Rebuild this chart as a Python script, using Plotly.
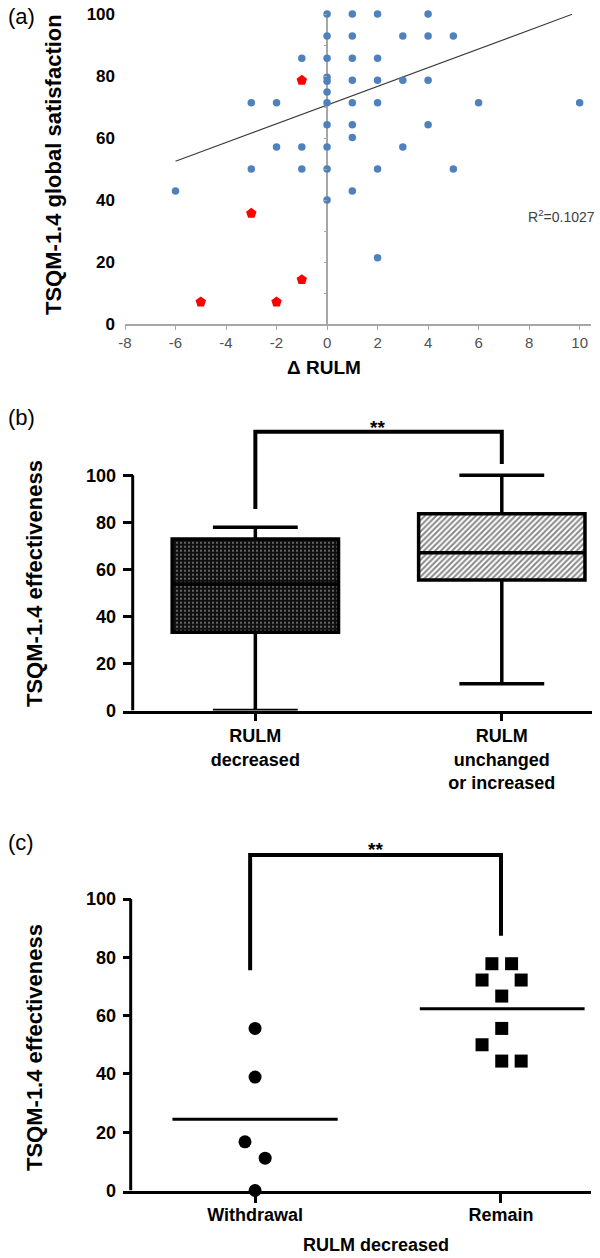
import numpy as np
import plotly.graph_objects as go

# ---------------- data ----------------
# (a) scatter: change in RULM vs TSQM-1.4 global satisfaction
blue_x = [-6, -3, -3, -2, -2, -1, -1, -1,
          0, 0, 0, 0, 0, 0, 0, 0, 0, 0, 0,
          1, 1, 1, 1, 1, 1, 1, 1,
          2, 2, 2, 2, 2, 2,
          3, 3, 3,
          4, 4, 4, 4,
          5, 5, 6, 10]
blue_y = [42.9, 71.4, 50.0, 71.4, 57.1, 85.7, 57.1, 50.0,
          100, 92.9, 85.7, 79.6, 78.3, 74.8, 71.4, 64.3, 57.1, 50.0, 40.0,
          100, 92.9, 85.7, 78.6, 71.4, 64.3, 60.2, 42.9,
          100, 85.7, 78.6, 71.4, 50.0, 21.4,
          92.9, 78.6, 57.1,
          100, 92.9, 78.6, 64.3,
          92.9, 50.0, 71.4, 71.4]
red_x = [-1, -3, -1, -5, -2]
red_y = [78.6, 35.7, 14.3, 7.1, 7.1]
trend_x = [-6, 9.7]
trend_y = [52.5, 99.9]
r2_text = "R<sup>2</sup>=0.1027"
a_xticks = [-8, -6, -4, -2, 0, 2, 4, 6, 8, 10]
a_yticks = [0, 20, 40, 60, 80, 100]

# (b) box plots
b_labels = ["RULM<br>decreased", "RULM<br>unchanged<br>or increased"]
b_q1 = [33.3, 55.5]
b_median = [53.8, 67.1]
b_q3 = [72.9, 83.7]
b_low = [0.0, 11.4]
b_high = [77.9, 100.0]
b_bracket_y = [85.7, 118.5, 118.5, 104.8]

# (c) dot plot
c_labels = ["Withdrawal", "Remain"]
withdrawal = [55.6, 38.9, 16.7, 11.1, 0.0]
withdrawal_jitter = [0.0, 0.0, -0.041, 0.041, 0.0]
remain = [77.8, 77.8, 72.2, 72.2, 66.7, 55.6, 50.0, 44.4, 44.4]
remain_jitter = [-0.037, 0.043, -0.077, 0.082, 0.003, 0.003, -0.077, 0.003, 0.082]
c_bracket_y = [75.6, 115.1, 115.1, 87.4]

yticks_bc = [0, 20, 40, 60, 80, 100]

FONT = "Liberation Sans, Arial, sans-serif"
H = 1258.0
W = 600.0


def py(px):
    return 1 - px / H


def pxx(px):
    return px / W


fig = go.Figure()

# ---------------- panel (a) ----------------
fig.add_trace(go.Scatter(
    x=trend_x, y=trend_y, mode="lines",
    line=dict(color="#3a3a3a", width=1.1),
    xaxis="x", yaxis="y"))
fig.add_trace(go.Scatter(
    x=blue_x, y=blue_y, mode="markers",
    marker=dict(color="#4F81BD", size=7.5, symbol="circle", line=dict(width=0)),
    cliponaxis=False, xaxis="x", yaxis="y"))
fig.add_trace(go.Scatter(
    x=red_x, y=red_y, mode="markers",
    marker=dict(color="#FF0000", size=11, symbol="pentagon", line=dict(width=0)),
    cliponaxis=False, xaxis="x", yaxis="y"))
# invisible trace so the tick-only axis drawn along x=0 exists
fig.add_trace(go.Scatter(x=[0], y=[0], mode="markers",
                         marker=dict(opacity=0), xaxis="x", yaxis="y4"))

# ---------------- panel (b) ----------------
b_x = [0, 1]
b_height = list(np.array(b_q3) - np.array(b_q1))
fig.add_trace(go.Bar(
    x=[b_x[0]], base=[b_q1[0]], y=[b_height[0]], width=0.675,
    marker=dict(color="#101010", line=dict(width=0),
                pattern=dict(shape=".", fgcolor="#dcdcdc", size=4,
                             solidity=0.22, fillmode="overlay")),
    xaxis="x2", yaxis="y2"))
fig.add_trace(go.Bar(
    x=[b_x[1]], base=[b_q1[1]], y=[b_height[1]], width=0.675,
    marker=dict(color="white", line=dict(width=0),
                pattern=dict(shape="/", fgcolor="#111111", size=4,
                             solidity=0.5, fillmode="overlay")),
    xaxis="x2", yaxis="y2"))
fig.add_trace(go.Box(
    x=b_x, q1=b_q1, median=b_median, q3=b_q3,
    lowerfence=b_low, upperfence=b_high,
    width=0.675, whiskerwidth=0.51,
    line=dict(color="black", width=3.5),
    fillcolor="rgba(0,0,0,0)", boxpoints=False,
    xaxis="x2", yaxis="y2"))
fig.add_trace(go.Scatter(
    x=[0, 0, 1, 1], y=b_bracket_y, mode="lines",
    line=dict(color="black", width=4), xaxis="x2", yaxis="y2"))

# ---------------- panel (c) ----------------
wx = [0 + j for j in withdrawal_jitter]
rx = [1 + j for j in remain_jitter]
fig.add_trace(go.Scatter(
    x=wx, y=withdrawal, mode="markers",
    marker=dict(color="black", size=13, symbol="circle", line=dict(width=0)),
    cliponaxis=False, xaxis="x3", yaxis="y3"))
fig.add_trace(go.Scatter(
    x=rx, y=remain, mode="markers",
    marker=dict(color="black", size=13, symbol="square", line=dict(width=0)),
    cliponaxis=False, xaxis="x3", yaxis="y3"))
mw = float(np.mean(withdrawal))
mr = float(np.mean(remain))
fig.add_trace(go.Scatter(
    x=[-0.336, 0.336], y=[mw, mw], mode="lines",
    line=dict(color="black", width=3), xaxis="x3", yaxis="y3"))
fig.add_trace(go.Scatter(
    x=[1 - 0.33, 1 + 0.34], y=[mr, mr], mode="lines",
    line=dict(color="black", width=3), xaxis="x3", yaxis="y3"))
fig.add_trace(go.Scatter(
    x=[-0.02, -0.02, 1, 1], y=c_bracket_y, mode="lines",
    line=dict(color="black", width=4), xaxis="x3", yaxis="y3"))

# ---------------- axes ----------------
grey = "#A6A6A6"
bc_xrange = [-0.537, 1.366]

layout = dict(
    template="none",
    width=600, height=1258,
    margin=dict(l=0, r=0, t=0, b=0, pad=0, autoexpand=False),
    paper_bgcolor="white", plot_bgcolor="white",
    showlegend=False, barmode="overlay", hovermode=False,
    font=dict(family=FONT, color="black"),
    # panel a
    xaxis=dict(domain=[pxx(125), pxx(591)], range=[-8, 10.45], anchor="y",
               tickvals=a_xticks, ticktext=[str(v) for v in a_xticks],
               ticks="outside", ticklen=4, tickcolor=grey,
               showline=True, linecolor=grey, linewidth=1.5,
               zeroline=True, zerolinecolor=grey, zerolinewidth=1.5,
               showgrid=False, automargin=False,
               tickfont=dict(family=FONT, size=15, color="#505050")),
    yaxis=dict(domain=[py(324), py(14)], range=[0, 100], anchor="x",
               tickvals=a_yticks, showline=False, showgrid=False,
               zeroline=False, ticks="", ticklabelstandoff=9, automargin=False,
               tickfont=dict(family=FONT, size=17, color="black", weight="bold")),
    yaxis4=dict(domain=[py(324), py(14)], range=[0, 100], overlaying="y",
                anchor="free", position=pxx(327.1), side="left",
                dtick=10, ticks="outside", ticklen=3, tickcolor=grey,
                showticklabels=False, showline=False, showgrid=False,
                zeroline=False, automargin=False),
    # panel b
    xaxis2=dict(domain=[pxx(123), pxx(592)], range=bc_xrange, anchor="y2",
                tickvals=[0, 1], ticktext=b_labels, ticks="outside",
                ticklen=7, tickwidth=3, tickcolor="black",
                showline=True, linecolor="black", linewidth=3,
                showgrid=False, zeroline=False, layer="below traces",
                automargin=False,
                tickfont=dict(family=FONT, size=18, weight="bold")),
    yaxis2=dict(domain=[py(710.5), py(710.5 - 130 * 2.352)], range=[0, 130],
                anchor="x2", tickvals=yticks_bc, ticks="inside", ticklen=10,
                tickwidth=3, tickcolor="black", showline=False,
                showgrid=False, zeroline=False, ticklabelstandoff=6,
                automargin=False,
                tickfont=dict(family=FONT, size=18, weight="bold")),
    # panel c
    xaxis3=dict(domain=[pxx(123), pxx(591)], range=bc_xrange, anchor="y3",
                tickvals=[0, 1], ticktext=c_labels, ticks="outside",
                ticklen=9, tickwidth=3, tickcolor="black",
                showline=True, linecolor="black", linewidth=3,
                showgrid=False, zeroline=False, layer="below traces",
                automargin=False, ticklabelstandoff=-3,
                tickfont=dict(family=FONT, size=18, weight="bold")),
    yaxis3=dict(domain=[py(1190.5), py(1190.5 - 125 * 2.915)], range=[0, 125],
                anchor="x3", tickvals=yticks_bc, ticks="inside", ticklen=8,
                tickwidth=3, tickcolor="black", showline=False,
                showgrid=False, zeroline=False, ticklabelstandoff=6,
                automargin=False,
                tickfont=dict(family=FONT, size=18, weight="bold")),
)
fig.update_layout(**layout)

# y-axis lines for panels b and c (offset from the x-axis start)
fig.add_shape(type="line", xref="x2", yref="y2",
              x0=bc_xrange[0] + 9.7 / 246.4, x1=bc_xrange[0] + 9.7 / 246.4,
              y0=0, y1=100, line=dict(color="black", width=3))
fig.add_shape(type="line", xref="x3", yref="y3",
              x0=bc_xrange[0] + 7.7 / 246.4, x1=bc_xrange[0] + 7.7 / 246.4,
              y0=0, y1=100, line=dict(color="black", width=3))

# ---------------- annotations ----------------
ann = []


def A(**kw):
    d = dict(showarrow=False, xanchor="center", yanchor="middle")
    d.update(kw)
    ann.append(d)


for lbl, yy in [("(a)", 17), ("(b)", 417), ("(c)", 842)]:
    A(text=lbl, xref="paper", yref="paper", x=pxx(21), y=py(yy),
      font=dict(family=FONT, size=22))
A(text="TSQM-1.4 global satisfaction", xref="paper", yref="paper",
  x=pxx(53), y=py(165), textangle=-90,
  font=dict(family=FONT, size=22, weight="bold"))
A(text="TSQM-1.4 effectiveness", xref="paper", yref="paper",
  x=pxx(34), y=py(584), textangle=-90,
  font=dict(family=FONT, size=22, weight="bold"))
A(text="TSQM-1.4 effectiveness", xref="paper", yref="paper",
  x=pxx(34), y=py(1048), textangle=-90,
  font=dict(family=FONT, size=22, weight="bold"))
A(text="Δ RULM", xref="paper", yref="paper", x=pxx(324), y=py(367),
  font=dict(family=FONT, size=19, weight="bold"))
A(text="RULM decreased", xref="paper", yref="paper", x=pxx(376), y=py(1245),
  font=dict(family=FONT, size=18, weight="bold"))
A(text=r2_text, xref="x", yref="y", x=9.3, y=35.0,
  font=dict(family=FONT, size=14, color="#404040"))
A(text="**", xref="x2", yref="y2", x=0.497, y=120.5,
  font=dict(family=FONT, size=19, weight="bold"))
A(text="**", xref="x3", yref="y3", x=0.49, y=117.0,
  font=dict(family=FONT, size=19, weight="bold"))
fig.update_layout(annotations=ann)

fig.write_html(
    "out.html",
    config={"displayModeBar": False, "staticPlot": True},
    post_script="document.body.style.margin='0';document.body.style.overflow='hidden';")
